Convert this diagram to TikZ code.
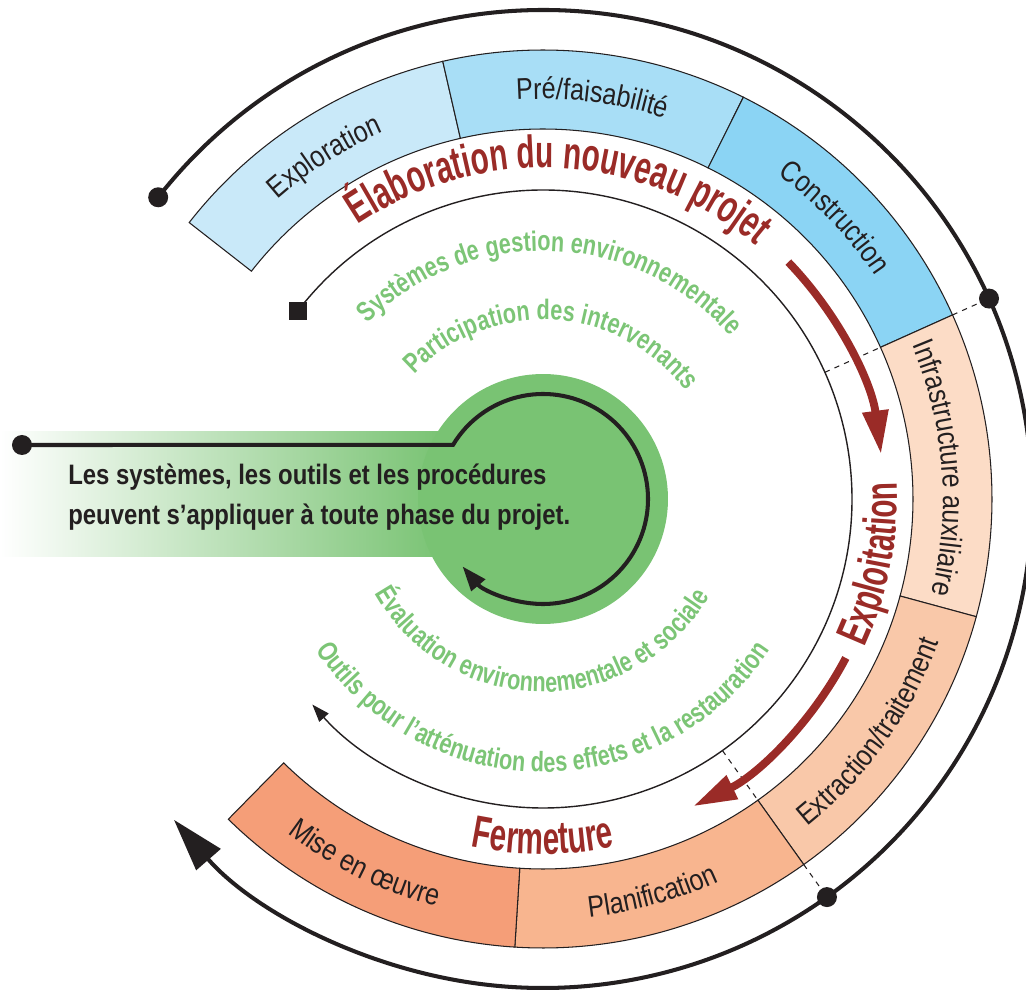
\documentclass[tikz,border=0pt]{standalone}
\usepackage{fontspec}
\setmainfont{Liberation Sans}
\newfontfamily\bandfont[FakeStretch=0.84]{Liberation Sans}
\newfontfamily\phasefont[FakeStretch=0.65]{Liberation Sans}
\newfontfamily\toolfont[FakeStretch=0.77]{Liberation Sans}
\newfontfamily\notefont[FakeStretch=0.85]{Liberation Sans}
\usetikzlibrary{arrows.meta,decorations.text}

\definecolor{exploblue}{HTML}{C9E9F9}
\definecolor{prefablue}{HTML}{A8DEF6}
\definecolor{constrblue}{HTML}{8BD4F4}
\definecolor{infrapeach}{HTML}{FCDCC6}
\definecolor{extrapeach}{HTML}{F9C8A9}
\definecolor{planipeach}{HTML}{F8B58F}
\definecolor{misepeach}{HTML}{F59E78}
\definecolor{phasered}{HTML}{9A2B27}
\definecolor{toolgreen}{HTML}{7CC576}
\definecolor{diskgreen}{HTML}{79C373}
\definecolor{inkblack}{HTML}{231F20}

\tikzset{
  bandlabel/.style={decorate,decoration={text along path,text align=center,
      text={|\bandfont\fontsize{17}{19}\selectfont\color{inkblack}|#1}}},
  phaselabel/.style={decorate,decoration={text along path,text align=center,
      text={|\phasefont\bfseries\fontsize{26}{28}\selectfont\color{phasered}|#1}}},
  toollabel/.style={decorate,decoration={text along path,text align=center,
      text={|\toolfont\bfseries\fontsize{16}{18}\selectfont\color{toolgreen}|#1}}},
}

\begin{document}
\begin{tikzpicture}[x=0.02cm,y=0.02cm,
    bandseg/.style={draw=inkblack,line width=0.6pt},
    bigdot/.style={circle,fill=inkblack,inner sep=0pt,minimum size=0.4cm},
    squaremark/.style={rectangle,fill=inkblack,inner sep=0pt,minimum size=0.36cm},
    cycleline/.style={draw=inkblack,line width=2.3pt},
    toolline/.style={draw=inkblack,line width=0.8pt},
    phasearrow/.style={draw=phasered,line width=4.5pt,-{Triangle[length=25pt,width=14pt]}},
    boundary/.style={draw=inkblack,dashed,line width=0.6pt}]
    \useasboundingbox (-543,-490) rectangle (483,499);
    \clip (-543,-490) rectangle (483,499);
    \shade[left color=white,right color=diskgreen] (-543,-58) rectangle (-100,67);
    \node[circle,fill=diskgreen,inner sep=0pt,minimum size=5cm] (hub) at (0,0) {};
    \foreach \from/\to/\fillcol in {142/102.9/exploblue,102.9/63.5/prefablue,63.5/24.2/constrblue,24.2/-15.2/infrapeach,-15.2/-54.5/extrapeach,-54.5/-93.6/planipeach,-93.6/-134.5/misepeach}
      \filldraw[bandseg,fill=\fillcol] (\from:370) arc[start angle=\from,end angle=\to,radius=370] -- (\to:449) arc[start angle=\to,end angle=\from,radius=449] -- cycle;
    \path[bandlabel=Exploration] (141:400) arc[start angle=141,end angle=104,radius=400];
    \path[bandlabel=Pré/faisabilité] (103:400) arc[start angle=103,end angle=63,radius=400];
    \path[bandlabel=Construction] (64:400) arc[start angle=64,end angle=24,radius=400];
    \path[bandlabel=Infrastructure auxiliaire] (28:400) arc[start angle=28,end angle=-19,radius=400];
    \path[bandlabel=Extraction/traitement] (-57:421) arc[start angle=-57,end angle=-14,radius=421];
    \path[bandlabel=Planification] (-95:421) arc[start angle=-95,end angle=-54,radius=421];
    \path[bandlabel=Mise en œuvre] (-136:421) arc[start angle=-136,end angle=-96,radius=421];
    \node[bigdot] (startdot) at (141.9:489) {};
    \node[bigdot] (builddot) at (24.2:489) {};
    \node[bigdot] (closedot) at (-54.5:489) {};
    \node[squaremark] (toolstart) at (142.5:309) {};
    \draw[boundary] (24.2:309) -- (24.2:370) (24.2:449) -- (builddot.center);
    \draw[boundary] (-54.5:309) -- (-54.5:370) (-54.5:449) -- (closedot.center);
    \draw[cycleline,-{Triangle[length=30pt,width=18pt]}] (startdot.center) arc[start angle=141.9,end angle=-139,radius=489];
    \draw[toolline,-{Triangle[length=10pt,width=7pt]}] (toolstart.center) arc[start angle=142.5,end angle=-138.3,radius=309];
    \path[phaselabel=Élaboration du nouveau projet] (130:331) arc[start angle=130,end angle=44,radius=331];
    \path[phaselabel=Exploitation] (-32:354) arc[start angle=-32,end angle=10,radius=354];
    \path[phaselabel=Fermeture] (-110:355) arc[start angle=-110,end angle=-70,radius=355];
    \draw[phasearrow] (44:341) arc[start angle=44,end angle=7.5,radius=341];
    \draw[phasearrow] (-27.7:342) arc[start angle=-27.7,end angle=-64,radius=342];
    \path[toollabel=Systèmes de gestion environnementale] (140:248) arc[start angle=140,end angle=36,radius=248];
    \path[toollabel=Participation des intervenants] (145:179) arc[start angle=145,end angle=28,radius=179];
    \path[toollabel=Évaluation environnementale et sociale] (-162:193) arc[start angle=-162,end angle=-19,radius=193];
    \path[toollabel=Outils pour l’atténuation des effets et la restauration] (-158:273) arc[start angle=-158,end angle=-22,radius=273];
    \node[bigdot] (notedot) at (-521,54) {};
    \draw[cycleline,-{Triangle[length=14pt,width=10pt]}] (notedot.center) -- (149:105) arc[start angle=149,end angle=-140,radius=105];
    \node[anchor=north west,inner sep=0pt,align=left,text=inkblack,font=\notefont\bfseries\fontsize{16}{22.7}\selectfont] (note) at (-475,35) {Les systèmes, les outils et les procédures\\peuvent s’appliquer à toute phase du projet.};
\end{tikzpicture}
\end{document}
